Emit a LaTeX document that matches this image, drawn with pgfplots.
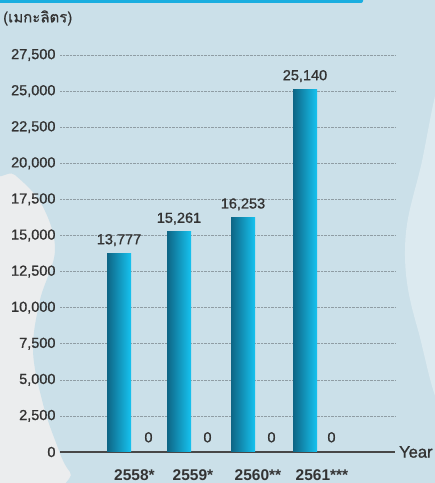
\documentclass[border=0pt]{standalone}
\usepackage{fontspec}
\setmainfont{Liberation Sans}
\newfontfamily\medfont[FakeBold=1.0]{Liberation Sans}
\newfontfamily\thaifont[Script=Thai, FakeBold=0.6]{Loma}
\usepackage{pgfplots}
\pgfplotsset{compat=1.18}
\definecolor{bggray}{HTML}{EBEDEE}
\definecolor{bg}{HTML}{CBE0E9}
\definecolor{cloud}{HTML}{DCEAF0}
\definecolor{topblue}{HTML}{1AAEE0}
\definecolor{txt}{HTML}{333333}
\definecolor{bardark}{HTML}{0E6585}
\definecolor{barcyan}{HTML}{16C3F0}
\definecolor{gridc}{HTML}{8F9DA4}
\pgfplotsset{gbar/.style={draw=none, left color=bardark, middle color=barcyan, right color=barcyan, bar shift=0pt}}
\begin{document}
\begin{tikzpicture}
\path[use as bounding box, clip] (0,0) rectangle (435bp,483bp);
\fill[bggray] (0,0) rectangle (435bp,483bp);
\begin{scope}[x=1bp, y=-1bp, yshift=483bp]
\fill[bg] plot[smooth cycle, tension=0.6] coordinates {(-10,-10) (445,-10) (445,495) (100,495) (70,472) (55,440) (42,400) (33,350) (40,300) (55,250) (42,205) (15,175) (-10,160)};
\fill[cloud] plot[smooth cycle, tension=0.7] coordinates {(445,90) (420,170) (405,250) (418,330) (445,390)};
\end{scope}
\fill[topblue, rounded corners=2bp] (-5bp,480bp) rectangle (363bp,486bp);
\node[anchor=west, text=txt, inner sep=0pt] at (3bp,465bp) {\thaifont\fontsize{15bp}{17bp}\selectfont (เมกะลิตร)};
\begin{axis}[
  at={(60bp,31bp)}, anchor=south west,
  scale only axis, width=335bp, height=397bp,
  xmin=60, xmax=395, ymin=0, ymax=27500,
  axis line style={draw=none},
  tick style={draw=none},
  ytick={2500,5000,...,27500},
  extra y ticks={0},
  extra y tick style={grid style={solid, line width=2bp, color=txt!90}},
  ymajorgrids,
  grid style={densely dotted, gridc, line width=0.6bp},
  xtick={134.5,193,258,322},
  xticklabels={2558*,2559*,2560**,2561***},
  xticklabel style={font=\bfseries\fontsize{15.5bp}{17bp}\selectfont, text=txt, yshift=-9.5bp},
  yticklabel style={font=\medfont\fontsize{14.5bp}{16bp}\selectfont, text=txt, xshift=-1bp},
  /pgf/number format/.cd, 1000 sep={,}, assume math mode=true,
  /pgfplots/.cd,
  scaled y ticks=false,
  ybar, bar width=24,
  nodes near coords,
  every node near coord/.append style={font=\medfont\fontsize{14.5bp}{16bp}\selectfont, text=txt, yshift=3.5bp,
     /pgf/number format/1000 sep={,}, /pgf/number format/assume math mode=true},
  clip=false,
]
\addplot[gbar] coordinates {(119,13777)};
\addplot[gbar] coordinates {(179,15261)};
\addplot[gbar] coordinates {(243,16253)};
\addplot[gbar] coordinates {(305,25140)};
\addplot[draw=none, fill=none, bar shift=0pt, every node near coord/.append style={yshift=2.5bp}]
  coordinates {(148.5,0) (207.5,0) (271.5,0) (331.5,0)};
\end{axis}
\node[anchor=west, text=txt, inner sep=0pt] at (399bp,31bp) {\medfont\fontsize{16.5bp}{18bp}\selectfont Year};
\end{tikzpicture}
\end{document}
